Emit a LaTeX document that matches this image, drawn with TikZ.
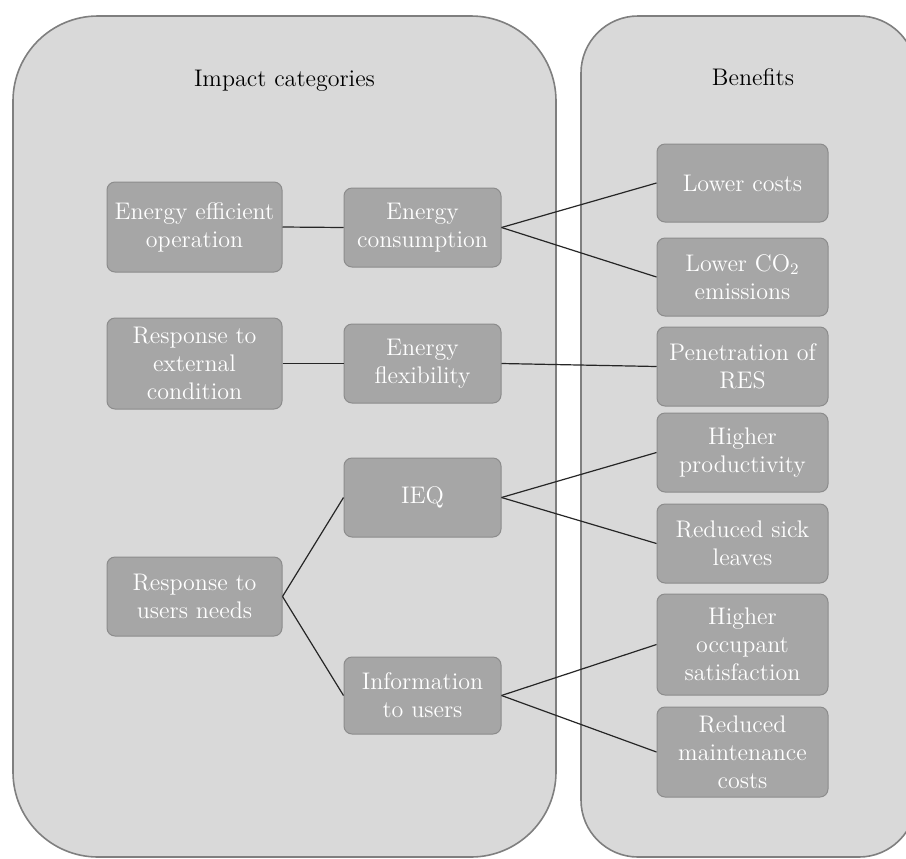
\documentclass[tikz,border=0pt]{standalone}
\definecolor{panelfill}{HTML}{D9D9D9}
\definecolor{panelline}{HTML}{7F7F7F}
\definecolor{boxfill}{HTML}{A6A6A6}
\definecolor{boxline}{HTML}{8C8C8C}
\begin{document}
\begin{tikzpicture}[x=0.5pt,y=-0.5pt,
  panel/.style={draw=panelline,fill=panelfill,line width=0.8pt},
  head/.style={anchor=base,font=\fontsize{12}{14}\selectfont},
  box/.style={draw=boxline,fill=boxfill,text=white,rounded corners=4pt,
    align=center,inner sep=0pt,line width=0.5pt,
    font=\fontsize{12}{14}\selectfont},
  catbox/.style={box,minimum width=87.5pt},
  midbox/.style={box,minimum width=78.5pt},
  benbox/.style={box,minimum width=85.5pt},
  link/.style={draw=black!85,line width=0.6pt}]
 \clip (0,0) rectangle (906,858); %page
 \draw[panel,rounded corners=42.5pt] (13,16) rectangle (556,857); %impact panel
 \draw[panel,rounded corners=28.5pt] (581,16) rectangle (916,857); %benefit panel
 \node[head] (impact) at (284.5,86) {Impact categories};
 \node[head] (benefits) at (753,85) {Benefits};

 %impact categories
 \node[catbox,minimum height=45pt] (eeo) at (194.5,227) {Energy efficient\\operation};
 \node[catbox,minimum height=45.5pt] (rec) at (194.5,363.5) {Response to\\external\\condition};
 \node[catbox,minimum height=39.5pt] (run) at (194.5,596.5) {Response to\\users needs};
 \node[midbox,minimum height=39.5pt] (ec) at (422.5,227.5) {Energy\\consumption};
 \node[midbox,minimum height=39.5pt] (ef) at (422.5,363.5) {Energy\\flexibility};
 \node[midbox,minimum height=39.5pt] (ieq) at (422.5,497.5) {IEQ};
 \node[midbox,minimum height=38.5pt] (iu) at (422.5,695.5) {Information\\to users};

 %benefits
 \node[benbox,minimum height=39pt] (lc) at (742.5,183) {Lower costs};
 \node[benbox,minimum height=39pt] (lco) at (742.5,277) {Lower CO\textsubscript{2}\\emissions};
 \node[benbox,minimum height=39.5pt] (pr) at (742.5,366.5) {Penetration of\\RES};
 \node[benbox,minimum height=39.5pt] (hp) at (742.5,452.5) {Higher\\productivity};
 \node[benbox,minimum height=39.5pt] (rsl) at (742.5,543.5) {Reduced sick\\leaves};
 \node[benbox,minimum height=50.5pt] (hos) at (742.5,644.5) {Higher\\occupant\\satisfaction};
 \node[benbox,minimum height=45pt] (rmc) at (742.5,752) {Reduced\\maintenance\\costs};

 \foreach \a/\b in {eeo/ec,rec/ef,run/ieq,run/iu,ec/lc,ec/lco,ef/pr,
   ieq/hp,ieq/rsl,iu/hos,iu/rmc}
   \draw[link] (\a.east)--(\b.west);
\end{tikzpicture}
\end{document}
